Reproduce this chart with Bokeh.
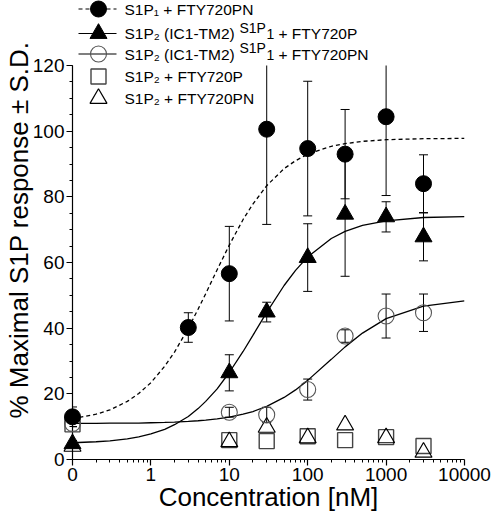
from bokeh.plotting import figure
from bokeh.models import Range1d, FixedTicker, Label, LinearScale
from bokeh.embed import file_html
from bokeh.resources import INLINE

# ---------------- data ----------------
# concentration 0 is drawn at the left end of the log axis (labelled "0")
ZERO_AT = 0.1

conc_s1p1 = [0, 3, 10, 30, 100, 300, 1000, 3000]
s1p1_pn_mean = [13.0, 40.2, 56.6, 100.6, 94.7, 93.0, 104.4, 84.0]
s1p1_pn_sd = [3.0, 4.5, 14.4, 29.0, 20.5, 13.6, 24.0, 8.8]

conc_s1p2 = [0, 10, 30, 100, 300, 1000, 3000]
chim_p_mean = [4.8, 26.4, 44.9, 61.5, 74.7, 73.9, 67.8]
chim_p_sd = [1.0, 5.5, 3.0, 10.3, 18.9, 4.6, 7.3]
chim_pn_mean = [11.0, 14.4, 13.6, 21.3, 37.6, 43.7, 44.7]
chim_pn_sd = [1.0, 1.5, 2.3, 3.2, 1.9, 6.7, 5.7]
s1p2_p_mean = [10.7, 5.9, 5.6, 7.1, 5.9, 6.8, 4.1]
s1p2_pn_mean = [4.0, 5.4, 9.8, 6.6, 10.5, 6.6, 2.2]

# fitted curves
fit_conc = [0.1, 0.2, 0.3, 0.5, 0.7, 1, 1.5, 2, 3, 4, 5, 7, 10, 15, 20, 30,
            50, 70, 100, 200, 300, 500, 1000, 3000, 10000]
fit_s1p1_pn = [12.4, 13.8, 15.1, 17.7, 20.1, 23.4, 28.4, 32.7, 40.0, 45.8,
               50.5, 57.8, 65.3, 73.1, 77.8, 83.4, 88.6, 91.0, 93.0, 95.4,
               96.2, 96.9, 97.4, 97.7, 97.8]
fit_chim_p = [5.1, 5.4, 5.7, 6.3, 6.9, 7.8, 9.2, 10.6, 13.1, 15.5, 17.7, 21.5,
              26.5, 32.9, 37.8, 44.8, 53.0, 57.6, 61.7, 67.3, 69.5, 71.3,
              72.7, 73.7, 74.0]
fit_chim_pn = [11.0, 11.0, 11.1, 11.1, 11.1, 11.2, 11.3, 11.4, 11.6, 11.8,
               12.0, 12.4, 12.9, 13.8, 14.6, 16.2, 18.9, 21.2, 24.1, 30.5,
               34.3, 38.5, 42.9, 46.7, 48.3]

x_tick_values = [0, 1, 10, 100, 1000, 10000]
x_tick_labels = ["0", "1", "10", "100", "1000", "10000"]
y_tick_values = [0, 20, 40, 60, 80, 100, 120]
y_minor_step = 5
Y_MAX = 120

# legend texts: (main text, superscript, its subscript, text after)
legend_texts = [
    ("S1P\u2081 + FTY720PN", None, None, None),
    ("S1P\u2082 (IC1-TM2)", "S1P", "1", "+ FTY720P"),
    ("S1P\u2082 (IC1-TM2)", "S1P", "1", "+ FTY720PN"),
    ("S1P\u2082 + FTY720P", None, None, None),
    ("S1P\u2082 + FTY720PN", None, None, None),
]

FONT = "Liberation Sans"


def xpos(c):
    return [ZERO_AT if v == 0 else v for v in c]


# ---------------- layout ----------------
FW, FH = 392, 459          # frame size in px (frame reaches the canvas top)
AXIS_TOP_PX = 65           # px from frame top down to the y = 120 tick
y_top = Y_MAX * FH / (FH - AXIS_TOP_PX)

p = figure(frame_width=FW, frame_height=FH, x_axis_type="log",
           x_range=Range1d(ZERO_AT, 10000), y_range=Range1d(0, y_top),
           output_backend="svg", toolbar_location=None,
           min_border_left=71, min_border_right=35, min_border_top=0,
           min_border_bottom=0, background_fill_color="white",
           border_fill_color="white")
p.outline_line_color = None
p.grid.visible = False

# pixel coordinates (from frame top-left) used for the legend block
p.extra_x_ranges = {"lx": Range1d(0, FW)}
p.extra_y_ranges = {"ly": Range1d(FH, 0)}
p.extra_x_scales = {"lx": LinearScale()}
p.extra_y_scales = {"ly": LinearScale()}

# ---------------- axes ----------------
tick_pos = xpos(x_tick_values)
minor = [m * 10.0 ** e for e in range(-1, 4) for m in range(2, 10)]
p.xaxis.ticker = FixedTicker(ticks=tick_pos, minor_ticks=minor)
p.xaxis.major_label_overrides = {t: l for t, l in zip(tick_pos, x_tick_labels)}
p.yaxis.ticker = FixedTicker(
    ticks=y_tick_values,
    minor_ticks=list(range(0, Y_MAX + 1, y_minor_step)))

for ax in (p.xaxis[0], p.yaxis[0]):
    ax.axis_line_color = "black"
    ax.axis_line_width = 1.2
    ax.major_tick_line_color = "black"
    ax.minor_tick_line_color = "black"
    ax.major_tick_line_width = 1.2
    ax.minor_tick_line_width = 1
    ax.major_tick_in = 0
    ax.major_tick_out = 6
    ax.minor_tick_in = 0
    ax.minor_tick_out = 3
    ax.major_label_text_font = FONT
    ax.major_label_text_font_size = "19px"
    ax.major_label_text_color = "black"
    ax.axis_label_text_font = FONT
    ax.axis_label_text_font_style = "normal"
    ax.axis_label_text_color = "black"

p.xaxis.axis_label = "Concentration [nM]"
p.xaxis.axis_label_text_font_size = "26px"
p.xaxis.major_label_standoff = 2
p.xaxis.axis_label_standoff = -2
p.yaxis.axis_label = "% Maximal S1P response \u00b1 S.D."
p.yaxis.axis_label_text_font_size = "26px"
p.yaxis.major_label_standoff = 2
p.yaxis.axis_label_standoff = -4
# the y axis line only runs up to 120
p.yaxis.axis_line_color = None
p.line([ZERO_AT, ZERO_AT], [0, Y_MAX], line_color="black", line_width=1.2,
       level="overlay")

# ---------------- curves ----------------
p.line(fit_conc, fit_chim_pn, line_color="black", line_width=1.3)
p.line(fit_conc, fit_chim_p, line_color="black", line_width=1.3)
p.line(fit_conc, fit_s1p1_pn, line_color="black", line_width=1.3,
       line_dash="4 3")


# ---------------- error bars (cut at the top of the y axis) ----------------
def errbars(conc, mean, sd):
    xs = xpos(conc)
    lo = [m - s for m, s in zip(mean, sd)]
    hi = [min(m + s, Y_MAX) for m, s in zip(mean, sd)]
    p.segment(x0=xs, y0=lo, x1=xs, y1=hi, line_color="black", line_width=1)
    cx = [x for x, m, s in zip(xs, mean, sd) if m + s <= Y_MAX]
    cy = [m + s for m, s in zip(mean, sd) if m + s <= Y_MAX]
    p.scatter(xs + cx, lo + cy, marker="dash", size=9, line_color="black",
              line_width=1)


errbars(conc_s1p2, chim_pn_mean, chim_pn_sd)
errbars(conc_s1p2, chim_p_mean, chim_p_sd)
errbars(conc_s1p1, s1p1_pn_mean, s1p1_pn_sd)

# ---------------- markers ----------------
sq_style = dict(marker="square", size=15, fill_color=None,
                line_color="#444444", line_width=1.4)
otri_style = dict(marker="triangle", size=17, fill_color=None,
                  line_color="black", line_width=1.2)
ocirc_style = dict(marker="circle", size=16, fill_color=None,
                   line_color="#555555", line_width=1.1)
ftri_style = dict(marker="triangle", size=17, fill_color="black",
                  line_color="black")
fcirc_style = dict(marker="circle", size=16, fill_color="black",
                   line_color="black")

p.scatter(xpos(conc_s1p2), s1p2_p_mean, level="overlay", **sq_style)
p.scatter(xpos(conc_s1p2), s1p2_pn_mean, level="overlay", **otri_style)
p.scatter(xpos(conc_s1p2), chim_pn_mean, level="overlay", **ocirc_style)
p.scatter(xpos(conc_s1p2), chim_p_mean, level="overlay", **ftri_style)
p.scatter(xpos(conc_s1p1), s1p1_pn_mean, level="overlay", **fcirc_style)

# ---------------- legend (pixel coordinates from the frame's top-left) -----
row_y = [8.5, 33, 53.5, 76, 98]
line_x = [6, 44]
mark_x = 26
text_x = 52
sup_x = 167        # start of the superscript "S1P"
sub_x = 194        # its subscript "1"
after_x = 206      # start of the text after the superscript
styles = [fcirc_style, ftri_style, ocirc_style, sq_style, otri_style]
dashes = ["4 3", "solid", "solid", None, None]


def legend_label(x, y, text, size):
    p.add_layout(Label(x=x, y=y, x_range_name="lx", y_range_name="ly",
                       text=text, text_font=FONT, text_font_size=size,
                       text_baseline="middle", text_color="black"))


for y, (main, sup, sub, after), st, dash in zip(row_y, legend_texts, styles,
                                                  dashes):
    if dash is not None:
        p.line(line_x, [y, y], x_range_name="lx", y_range_name="ly",
               line_color="black", line_width=1.2, line_dash=dash)
    p.scatter([mark_x], [y], x_range_name="lx", y_range_name="ly",
              level="overlay", **st)
    legend_label(text_x, y, main, "15.5px")
    if sup is not None:
        legend_label(sup_x, y - 6, sup, "14px")
        legend_label(sub_x, y + 0.5, sub, "14px")
        legend_label(after_x, y, after, "15.5px")

open("out.html", "w").write(file_html(p, INLINE))
